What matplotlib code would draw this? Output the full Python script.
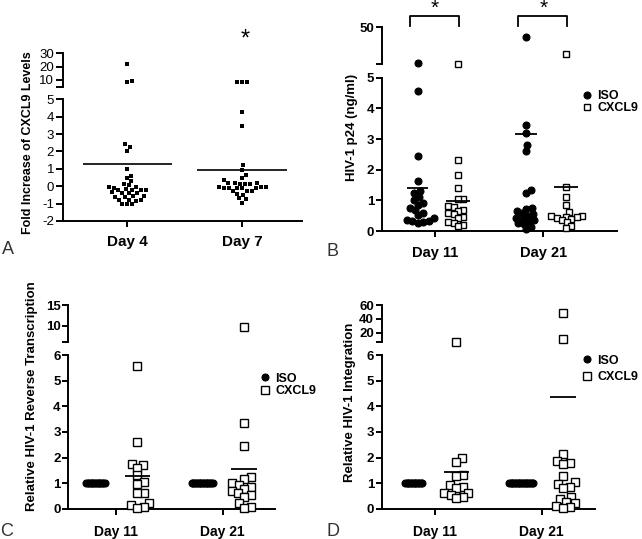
import numpy as np
import matplotlib
matplotlib.use("Agg")
import matplotlib.pyplot as plt

plt.rcParams["font.family"] = ["Liberation Sans", "DejaVu Sans"]

# ---------------------------------------------------------------------------
# Data
# ---------------------------------------------------------------------------

# A: fold increase of CXCL9 levels
a_days = ["Day 4", "Day 7"]
a_day4 = [22.0, 9.0, 8.7, 2.42, 2.28, 2.03, 0.98, 0.61, 0.46, 0.32, 0.11, 0.07,
          -0.04, -0.06, -0.08, -0.17, -0.19, -0.2, -0.22, -0.24, -0.36, -0.38,
          -0.39, -0.41, -0.56, -0.58, -0.6, -0.62, -0.77, -0.79, -0.81, -0.83,
          -1.0, -1.02, -1.03]
a_day7 = [8.3, 8.3, 8.2, 4.25, 3.48, 1.22, 0.94, 0.65, 0.46, 0.36, 0.2, 0.18,
          0.16, 0.15, 0.13, 0.12, -0.04, -0.06, -0.07, -0.08, -0.08, -0.09,
          -0.1, -0.11, -0.25, -0.27, -0.3, -0.44, -0.48, -0.7, -0.73, -0.94]
a_means = [1.28, 0.93]

# B: HIV-1 p24 (ng/ml)
b_days = ["Day 11", "Day 21"]
b_iso = [
    [6.3, 4.56, 2.44, 1.63, 1.3, 1.23, 1.12, 1.0, 0.92, 0.85, 0.74, 0.68, 0.6,
     0.52, 0.41, 0.36, 0.34, 0.32, 0.28, 0.26],
    [38.0, 3.45, 3.2, 2.8, 2.62, 1.34, 1.25, 0.74, 0.72, 0.65, 0.58, 0.55, 0.5,
     0.42, 0.4, 0.35, 0.3, 0.25, 0.22, 0.12, 0.05],
]
b_cxcl9 = [
    [5.2, 2.3, 1.84, 1.4, 1.06, 1.04, 0.82, 0.78, 0.7, 0.66, 0.58, 0.55, 0.47,
     0.43, 0.3, 0.27, 0.2, 0.15],
    [17.0, 1.45, 1.12, 0.85, 0.63, 0.5, 0.48, 0.47, 0.45, 0.44, 0.4, 0.35,
     0.28, 0.16, 0.1],
]
b_iso_means = [1.40, 3.17]
b_cxcl9_means = [0.98, 1.42]

# C: relative HIV-1 reverse transcription
c_days = ["Day 11", "Day 21"]
c_iso = [
    [1, 1, 1, 1, 1, 1, 1, 1, 1, 1, 1, 1, 1, 1],
    [1, 1, 1, 1, 1, 1, 1, 1, 1, 1, 1, 1, 1, 1, 1, 1],
]
c_cxcl9 = [
    [5.6, 2.6, 1.75, 1.7, 1.58, 1.3, 1.03, 0.95, 0.63, 0.6, 0.23, 0.14, 0.05,
     0.03],
    [9.6, 3.36, 2.46, 1.25, 1.18, 0.99, 0.93, 0.85, 0.76, 0.7, 0.62, 0.55,
     0.47, 0.21, 0.05, 0.03],
]
c_iso_means = [1.0, 1.0]
c_cxcl9_means = [1.29, 1.55]

# D: relative HIV-1 integration
d_days = ["Day 11", "Day 21"]
d_iso = [
    [1, 1, 1, 1, 1, 1, 1, 1, 1, 1, 1, 1, 1],
    [1, 1, 1, 1, 1, 1, 1, 1, 1, 1, 1, 1, 1, 1, 1, 1, 1, 1],
]
d_cxcl9 = [
    [6.3, 1.97, 1.81, 1.32, 1.28, 0.93, 0.86, 0.82, 0.62, 0.6, 0.55, 0.45, 0.4],
    [49.0, 11.0, 2.13, 1.88, 1.8, 1.76, 1.27, 1.03, 0.97, 0.85, 0.8, 0.45,
     0.38, 0.28, 0.23, 0.1, 0.06, 0.04],
]
d_iso_means = [1.0, 1.0]
d_cxcl9_means = [1.45, 4.35]

# ---------------------------------------------------------------------------
# Layout helpers (pixel based, figure is 642 x 539 at 100 dpi)
# ---------------------------------------------------------------------------

W, H = 642, 539
fig = plt.figure(figsize=(W / 100, H / 100), dpi=100)

LW = 1.4


def px_axes(x0, x1, y0, y1):
    return fig.add_axes([x0 / W, 1 - y1 / H, (x1 - x0) / W, (y1 - y0) / H])


def broken_axes(x0, x1, up_y, lo_y, up_lim, lo_lim, xlim, up_ticks, lo_ticks,
                ytick_weight="bold", ytick_size=9.5):
    up = px_axes(x0, x1, *up_y)
    lo = px_axes(x0, x1, *lo_y)
    for ax in (up, lo):
        ax.set_xlim(*xlim)
        ax.patch.set_visible(False)
        for s in ("top", "right"):
            ax.spines[s].set_visible(False)
        for s in ("left", "bottom"):
            ax.spines[s].set_linewidth(LW)
        ax.tick_params(width=LW, length=4, pad=1.5)
    up.spines["bottom"].set_visible(False)
    up.tick_params(axis="x", bottom=False, labelbottom=False)
    up.set_ylim(*up_lim)
    lo.set_ylim(*lo_lim)
    up.set_yticks(up_ticks)
    up.set_yticklabels([""] + [f"{t:g}" for t in up_ticks[1:]],
                       fontweight=ytick_weight, fontsize=ytick_size)
    lo.set_yticks(lo_ticks)
    lo.set_yticklabels([f"{t:g}" for t in lo_ticks],
                       fontweight=ytick_weight, fontsize=ytick_size)
    return up, lo


def swarm_x(ax, x0, vals, spacing):
    """Beeswarm style horizontal positions, computed in pixel space."""
    vals = np.asarray(vals, float)
    if len(vals) == 0:
        return vals
    cx = ax.transData.transform((x0, 0))[0]
    ys = ax.transData.transform(np.column_stack([np.full(len(vals), x0), vals]))[:, 1]
    offs = np.zeros(len(vals))
    placed = []
    for i in np.argsort(ys, kind="stable"):
        y = ys[i]
        cands = [0.0]
        for px, py in placed:
            dy = y - py
            if abs(dy) < spacing:
                dx = np.sqrt(spacing ** 2 - dy ** 2)
                cands += [px + dx, px - dx]
        for c in sorted(cands, key=abs):
            if all((c - px) ** 2 + (y - py) ** 2 >= spacing ** 2 - 1e-6
                   for px, py in placed):
                offs[i] = c
                break
        placed.append((offs[i], y))
    return ax.transData.inverted().transform(np.column_stack([cx + offs, ys]))[:, 0]


def plot_group(up, lo, x0, vals, cut, spacing, **style):
    vals = np.asarray(vals, float)
    handle = None
    for ax, sel in ((lo, vals <= cut), (up, vals > cut)):
        v = vals[sel]
        if len(v) == 0:
            continue
        xs = swarm_x(ax, x0, v, spacing)
        h, = ax.plot(xs, v, ls="none", clip_on=False, zorder=3, **style)
        handle = handle or h
    return handle


def mean_line(ax, x0, m, hw, lw=1.3):
    ax.plot([x0 - hw, x0 + hw], [m, m], color="black", lw=lw, zorder=4,
            solid_capstyle="butt")


def xticks(ax, labels, size, pad):
    ax.set_xticks(range(1, len(labels) + 1))
    ax.set_xticklabels(labels, fontweight="bold", fontsize=size)
    ax.tick_params(axis="x", pad=pad)


iso_style = dict(marker="o", ms=5.0, mfc="black", mec="black", mew=0.8)
sq_style = dict(marker="s", ms=4.6, mfc="white", mec="black", mew=1.0)
sq_big = dict(marker="s", ms=5.6, mfc="white", mec="black", mew=1.0)

# ---------------------------------------------------------------------------
# Panel A
# ---------------------------------------------------------------------------
a_up, a_lo = broken_axes(63, 302, (53.3, 86.6), (99.3, 221), (5, 30), (-2, 5),
                         (0.44, 2.52), [5, 10, 20, 30], list(range(-2, 6)),
                         ytick_weight="normal", ytick_size=9.5)
for ax in (a_up, a_lo):
    ax.tick_params(axis="y", length=5, pad=1.5)
sq_small = dict(marker="s", ms=3.0, mfc="black", mec="black", mew=0)
for i, vals in enumerate([a_day4, a_day7]):
    plot_group(a_up, a_lo, i + 1, vals, 5, 5.0, **sq_small)
    mean_line(a_lo, i + 1, a_means[i], 0.39, lw=1.2)
xticks(a_lo, a_days, 11, 6)
a_up.text(2.03, 40, "*", ha="center", va="center", fontsize=17, clip_on=False)
fig.text(28 / W, 1 - 143 / H, "Fold Increase of CXCL9 Levels", rotation=90,
         ha="center", va="center", fontweight="bold", fontsize=9)

# ---------------------------------------------------------------------------
# Panel B
# ---------------------------------------------------------------------------
b_up, b_lo = broken_axes(381.7, 616.7, (27.3, 64.3), (77.7, 231), (5, 50),
                         (0, 5), (0.508, 2.678), [5, 50], list(range(0, 6)))
B_ISO, B_CX = -0.16, 0.21
for i in range(2):
    h_iso = plot_group(b_up, b_lo, i + 1 + B_ISO, b_iso[i], 5, 5.6, **iso_style)
    h_cx = plot_group(b_up, b_lo, i + 1 + B_CX, b_cxcl9[i], 5, 5.6, **sq_style)
    mean_line(b_lo, i + 1 + B_ISO, b_iso_means[i], 0.1)
    mean_line(b_lo, i + 1 + B_CX, b_cxcl9_means[i], 0.11)
    # significance bracket
    xl, xr = i + 1 - 0.23, i + 1 + 0.22
    b_up.plot([xl, xl, xr, xr], [52, 64, 64, 52], color="black", lw=1.3,
              clip_on=False)
    b_up.text(i + 1, 73, "*", ha="center", va="center", fontsize=15,
              clip_on=False)
xticks(b_lo, b_days, 10.5, 7)
fig.text(352 / W, 1 - 127 / H, "HIV-1 p24 (ng/ml)", rotation=90,
         ha="center", va="center", fontweight="bold", fontsize=9.5)
fig.legend([h_iso, h_cx], ["ISO", "CXCL9"], loc="center left",
           bbox_to_anchor=(582 / W, 1 - 102 / H), frameon=False,
           prop=dict(weight="bold", size=9), handlelength=0.8,
           handletextpad=0.45, labelspacing=0.0, borderpad=0, borderaxespad=0)

# ---------------------------------------------------------------------------
# Panels C and D
# ---------------------------------------------------------------------------
CD_OFF = 0.2
panels = [
    dict(x0=68.3, x1=275, up_lim=(6, 15), up_ticks=[6, 10, 15],
         xlim=(0.552, 2.49), iso=c_iso, cx=c_cxcl9, iso_m=c_iso_means,
         cx_m=c_cxcl9_means, days=c_days,
         label="Relative HIV-1 Reverse Transcription", lab_x=32, lab_y=396,
         leg=(260, 385, 0.05)),
    dict(x0=381.7, x1=595, up_lim=(6, 60), up_ticks=[6, 20, 40, 60],
         xlim=(0.5, 2.5), iso=d_iso, cx=d_cxcl9, iso_m=d_iso_means,
         cx_m=d_cxcl9_means, days=d_days,
         label="Relative HIV-1 Integration", lab_x=350, lab_y=402,
         leg=(582, 369, 0.35)),
]
for p in panels:
    up, lo = broken_axes(p["x0"], p["x1"], (305, 342.3), (355.3, 508.7),
                         p["up_lim"], (0, 6), p["xlim"], p["up_ticks"],
                         list(range(0, 7)))
    for i in range(2):
        h_iso = plot_group(up, lo, i + 1 - CD_OFF, p["iso"][i], 6, 1.4,
                           **iso_style)
        h_cx = plot_group(up, lo, i + 1 + CD_OFF, p["cx"][i], 6, 6.8, **sq_big)
        mean_line(lo, i + 1 - CD_OFF, p["iso_m"][i], 0.11)
        mean_line(lo, i + 1 + CD_OFF, p["cx_m"][i], 0.12)
    xticks(lo, p["days"], 10, 8)
    fig.text(p["lab_x"] / W, 1 - p["lab_y"] / H, p["label"], rotation=90,
             ha="center", va="center", fontweight="bold", fontsize=9.5)
    lx, ly, sp = p["leg"]
    fig.legend([h_iso, h_cx], ["ISO", "CXCL9"], loc="center left",
               bbox_to_anchor=(lx / W, 1 - ly / H), frameon=False,
               prop=dict(weight="bold", size=9), handlelength=0.8,
               handletextpad=0.45, labelspacing=sp, borderpad=0,
               borderaxespad=0)

# panel letters
for letter, (x, y) in zip("ABCD", [(2, 250), (327, 251), (0, 531), (327, 531)]):
    fig.text(x / W, 1 - y / H, letter, ha="left", va="center", fontsize=13,
             color="#333333", fontweight="light")

fig.savefig("out.png", dpi=100)
